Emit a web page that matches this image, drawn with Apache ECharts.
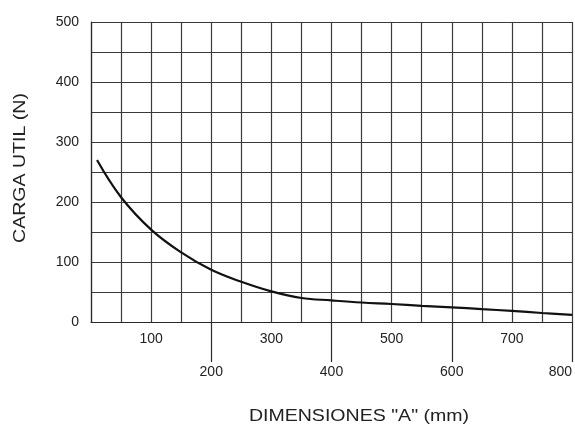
<!DOCTYPE html>
<html><head><meta charset="utf-8">
<script src="https://cdn.jsdelivr.net/npm/echarts@6/dist/echarts.min.js"></script>
<style>html,body{margin:0;padding:0;background:#fff}#c{width:575px;height:428px}</style>
</head><body><div id="c"></div>
<script>
const xValues = [10, 50, 100, 150, 200, 250, 300, 350, 400, 450, 500, 550, 600, 650, 700, 750, 800];
const loadValues = [270, 208, 154, 116, 87, 67, 51, 40, 36, 32.5, 30, 27, 24.5, 21.5, 18.5, 15, 12];
const oddTickLabels = [100, 300, 500, 700];
const evenTickLabels = [200, 400, 600, 800];
const xTitle = 'DIMENSIONES "A" (mm)';
const yTitle = 'CARGA UTIL (N)';

const font = 'Liberation Sans, Arial, sans-serif';
const chart = echarts.init(document.getElementById('c'));
chart.setOption({
  animation: false,
  backgroundColor: '#fff',
  grid: { left: 91, right: 3, top: 22, bottom: 106, outerBoundsMode: 'none', containLabel: false },
  xAxis: [
    {
      type: 'value', min: 0, max: 800, interval: 50, position: 'bottom',
      axisLine: { show: true, lineStyle: { color: '#2a2a2a', width: 1.2 } },
      axisTick: { show: false },
      splitLine: { show: true, lineStyle: { color: '#3a3a3a', width: 1.2 } },
      axisLabel: { show: true, customValues: oddTickLabels, margin: 10, color: '#222', fontSize: 14, fontFamily: font }
    },
    {
      type: 'value', min: 0, max: 800, interval: 50, position: 'bottom',
      axisLine: { show: false },
      axisTick: { show: true, customValues: evenTickLabels, length: 40, lineStyle: { color: '#2a2a2a', width: 1.2 } },
      splitLine: { show: false },
      axisLabel: { show: true, customValues: evenTickLabels, margin: 43, color: '#222', fontSize: 14, fontFamily: font, hideOverlap: false, alignMaxLabel: 'right' }
    }
  ],
  yAxis: {
    type: 'value', min: 0, max: 500, interval: 50,
    axisLine: { show: true, lineStyle: { color: '#2a2a2a', width: 1.2 } },
    axisTick: { show: false },
    splitLine: { show: true, lineStyle: { color: '#3a3a3a', width: 1.2 } },
    axisLabel: { margin: 12, color: '#222', fontSize: 14, fontFamily: font,
      formatter: v => (v % 100 === 0 ? String(v) : '') }
  },
  graphic: [
    { type: 'text', x: 359, y: 416, scaleX: 1.15, style: { text: xTitle, fill: '#222', font: '17px ' + font, align: 'center', verticalAlign: 'middle' } },
    { type: 'text', x: 20, y: 168, rotation: Math.PI / 2, scaleX: 1.15, style: { text: yTitle, fill: '#222', font: '17px ' + font, align: 'center', verticalAlign: 'middle' } }
  ],
  series: [{
    type: 'line', xAxisIndex: 0, smooth: 0.4, symbol: 'none',
    lineStyle: { color: '#111', width: 2.2 },
    data: xValues.map((x, i) => [x, loadValues[i]])
  }]
});
</script></body></html>
